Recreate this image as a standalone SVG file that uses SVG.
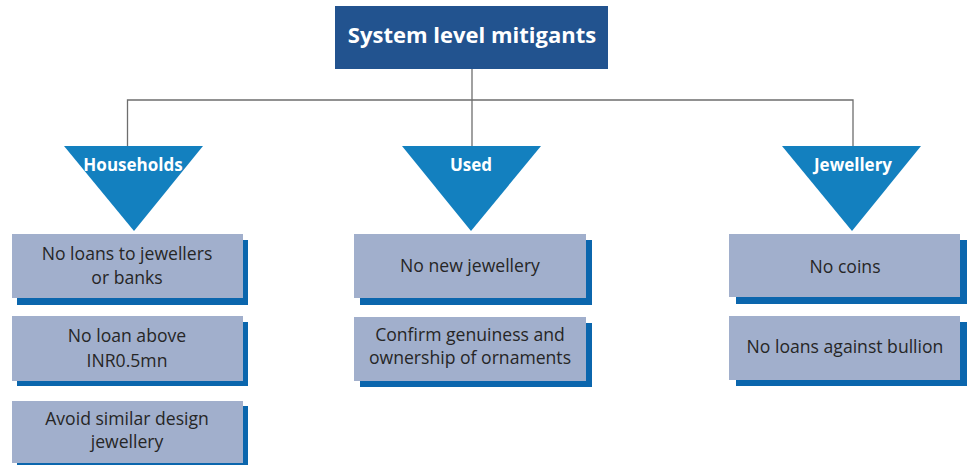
<svg xmlns="http://www.w3.org/2000/svg" width="970" height="465" viewBox="0 0 970 465">
  <style>
    .title { fill: #22538f; }
    .title-text { font-family: "Open Sans", "Liberation Sans", Arial, sans-serif; font-size: 22px; font-weight: bold; fill: #ffffff; text-anchor: middle; }
    .tri { fill: #1380bf; }
    .tri-text { font-family: "Open Sans", "Liberation Sans", Arial, sans-serif; font-size: 17px; font-weight: bold; fill: #ffffff; text-anchor: middle; }
    .box { fill: #a1afcc; }
    .shadow { fill: #0b66ad; }
    .box-text { font-family: "Open Sans", "Liberation Sans", Arial, sans-serif; font-size: 17.6px; fill: #262626; text-anchor: middle; }
    .conn { fill: none; stroke: #6e6e6e; stroke-width: 1.3; }
  </style>

  <!-- connectors -->
  <g id="connectors">
    <path class="conn" d="M472,69 V146"/>
    <path class="conn" d="M127.5,146 V100 H853 V146"/>
  </g>

  <!-- root -->
  <g id="root">
    <rect class="title" x="335" y="6" width="273" height="63"/>
    <text class="title-text" x="472" y="43">System level mitigants</text>
  </g>

  <!-- category heads -->
  <g id="households">
    <polygon class="tri" points="64,146 203,146 134,231"/>
    <text class="tri-text" x="133" y="171">Households</text>
  </g>
  <g id="used">
    <polygon class="tri" points="402,146 541,146 471,231"/>
    <text class="tri-text" x="471" y="171">Used</text>
  </g>
  <g id="jewellery">
    <polygon class="tri" points="782,146 921,146 852,231"/>
    <text class="tri-text" x="853" y="171">Jewellery</text>
  </g>

  <!-- Households items -->
  <g id="hh-1">
    <rect class="shadow" x="17" y="240" width="231" height="65"/>
    <rect class="box" x="12" y="234" width="231" height="64"/>
    <text class="box-text" x="127" y="260">No loans to jewellers</text>
    <text class="box-text" x="127" y="284">or banks</text>
  </g>
  <g id="hh-2">
    <rect class="shadow" x="17" y="322" width="231" height="64"/>
    <rect class="box" x="12" y="316" width="231" height="65"/>
    <text class="box-text" x="127" y="342">No loan above</text>
    <text class="box-text" x="127" y="367">INR0.5mn</text>
  </g>
  <g id="hh-3">
    <rect class="shadow" x="17" y="406" width="231" height="64"/>
    <rect class="box" x="12" y="401" width="231" height="62"/>
    <text class="box-text" x="127" y="425">Avoid similar design</text>
    <text class="box-text" x="127" y="448">jewellery</text>
  </g>

  <!-- Used items -->
  <g id="used-1">
    <rect class="shadow" x="360" y="240" width="232" height="65"/>
    <rect class="box" x="354" y="234" width="232" height="64"/>
    <text class="box-text" x="470" y="272">No new jewellery</text>
  </g>
  <g id="used-2">
    <rect class="shadow" x="360" y="323" width="232" height="64"/>
    <rect class="box" x="354" y="317" width="232" height="64"/>
    <text class="box-text" x="470" y="341">Confirm genuiness and</text>
    <text class="box-text" x="470" y="364">ownership of ornaments</text>
  </g>

  <!-- Jewellery items -->
  <g id="jw-1">
    <rect class="shadow" x="736" y="240" width="231" height="64"/>
    <rect class="box" x="729" y="234" width="231" height="63"/>
    <text class="box-text" x="845" y="273">No coins</text>
  </g>
  <g id="jw-2">
    <rect class="shadow" x="736" y="322" width="231" height="64"/>
    <rect class="box" x="729" y="316" width="231" height="64"/>
    <text class="box-text" x="845" y="353">No loans against bullion</text>
  </g>
</svg>
